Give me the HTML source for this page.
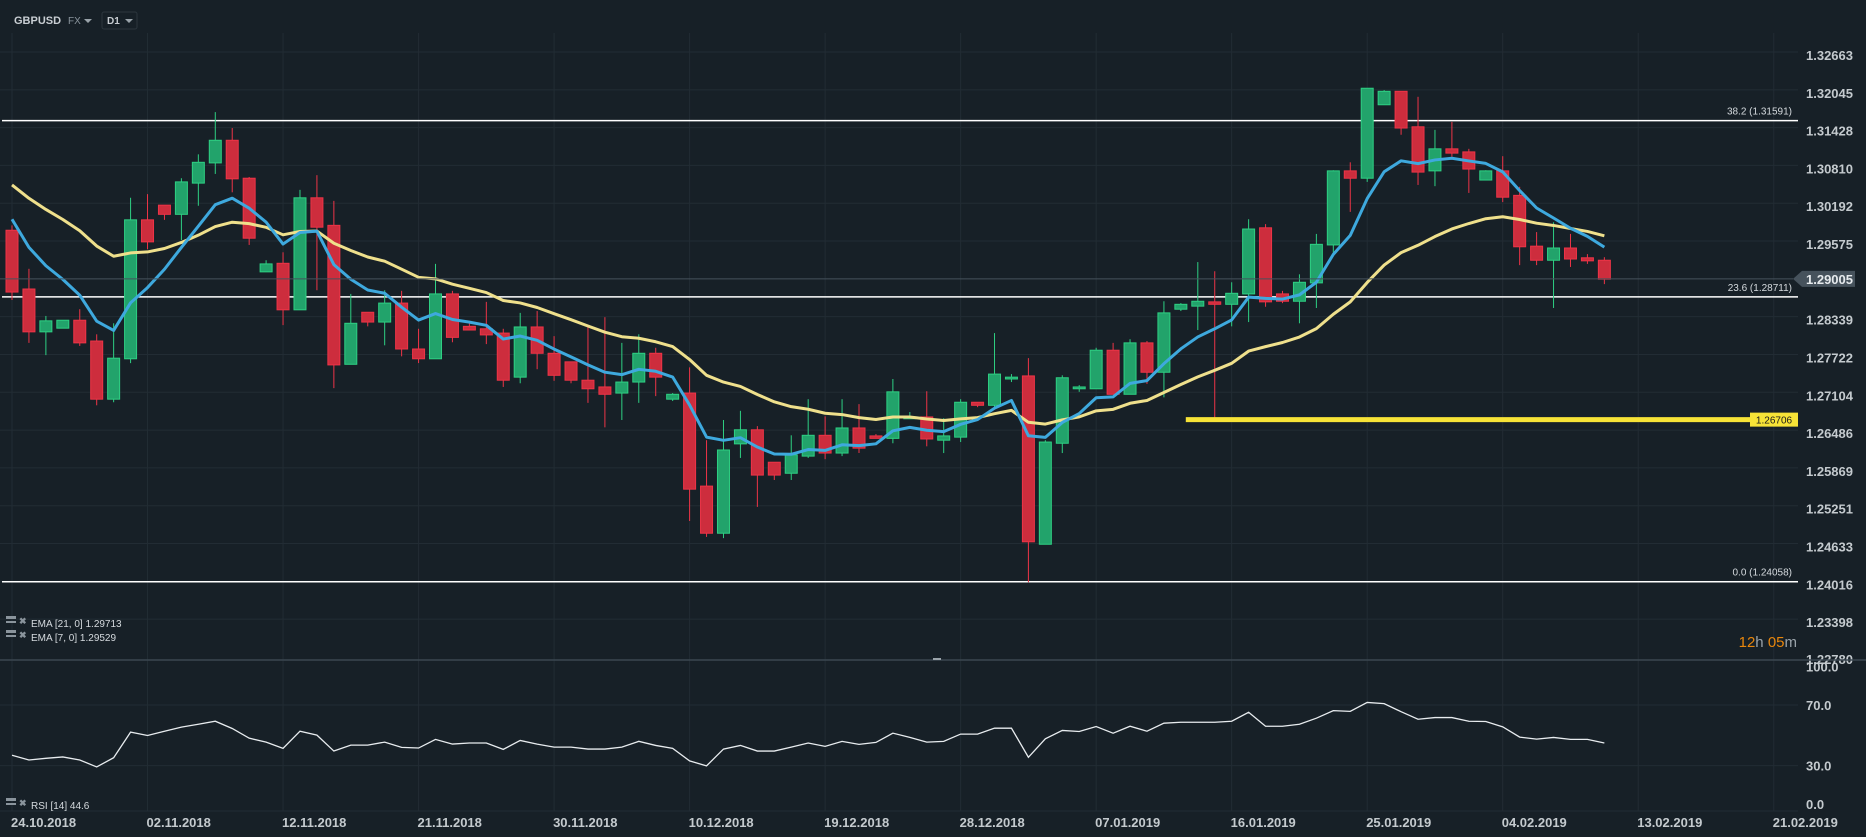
<!DOCTYPE html>
<html><head><meta charset="utf-8">
<style>
html,body{margin:0;padding:0;background:#172027;width:1866px;height:837px;overflow:hidden;font-family:"Liberation Sans",sans-serif;}
svg{display:block}
text{font-family:"Liberation Sans",sans-serif}
</style></head>
<body>
<svg id="chart" width="1866" height="837" xmlns="http://www.w3.org/2000/svg">
<rect x="0" y="0" width="1866" height="837" fill="#172027"/>
<g id="grid"></g>
<g id="fib"></g>
<g id="candles"></g>
<g id="emas"></g>
<g id="levels"></g>
<g id="rsi"></g>
<g id="axes"></g>
<g>
<text x="14" y="24" font-size="11" font-weight="bold" fill="#c9ced3">GBPUSD</text>
<g><text x="68" y="24" font-size="10" fill="#8a949c">FX</text><path d="M84 19 L92 19 L88 23 Z" fill="#9aa3aa"/></g>
<g><rect x="102" y="12" width="35" height="17" rx="2" fill="none" stroke="#2c363e"/><text x="107" y="24" font-size="10" font-weight="bold" fill="#c9ced3">D1</text><path d="M125 19 L133 19 L129 23 Z" fill="#9aa3aa"/></g>
</g>
<g>
<g><rect x="6" y="616" width="10" height="3" fill="#8a949c"/><rect x="6" y="621" width="10" height="2" fill="#8a949c"/><text x="19" y="624" font-size="9" font-weight="bold" fill="#8a949c">✖</text><text x="31" y="627" font-size="10" fill="#d5dade">EMA [21, 0] 1.29713</text></g>
<g><rect x="6" y="630" width="10" height="3" fill="#8a949c"/><rect x="6" y="635" width="10" height="2" fill="#8a949c"/><text x="19" y="638" font-size="9" font-weight="bold" fill="#8a949c">✖</text><text x="31" y="641" font-size="10" fill="#d5dade">EMA [7, 0] 1.29529</text></g>
<g><rect x="6" y="798" width="10" height="3" fill="#8a949c"/><rect x="6" y="803" width="10" height="2" fill="#8a949c"/><text x="19" y="806" font-size="9" font-weight="bold" fill="#8a949c">✖</text><text x="31" y="809" font-size="10" fill="#d5dade">RSI [14]  44.6</text></g>
</g>
<text x="1797" y="647" text-anchor="end" font-size="15"><tspan fill="#e8860c">12</tspan><tspan fill="#9aa3aa">h </tspan><tspan fill="#e8860c">05</tspan><tspan fill="#9aa3aa">m</tspan></text>
</svg>
<script>
// ---- data ----
const opens  = [1.2980,1.2884,1.2814,1.2820,1.2833,1.2799,1.2704,1.2770,1.2997,1.3021,1.3006,1.3057,1.3090,1.3127,1.3065,1.2912,1.2926,1.2850,1.3033,1.2988,1.2761,1.2846,1.2830,1.2861,1.2786,1.2770,1.2876,1.2823,1.2819,1.2812,1.2740,1.2822,1.2779,1.2765,1.2735,1.2724,1.2714,1.2732,1.2779,1.2704,1.2714,1.2562,1.2485,1.2631,1.2654,1.2601,1.2583,1.2611,1.2645,1.2616,1.2657,1.2644,1.2640,1.2672,1.2675,1.2637,1.2642,1.2699,1.2694,1.2737,1.2742,1.2467,1.2632,1.2721,1.2721,1.2784,1.2712,1.2796,1.2748,1.2851,1.2856,1.2863,1.2859,1.2876,1.2984,1.2876,1.2864,1.2894,1.2956,1.3077,1.3065,1.3185,1.3207,1.3149,1.3077,1.3113,1.3108,1.3062,1.3077,1.3037,1.2954,1.2931,1.2951,1.2935,1.2931];
const highs  = [1.2988,1.2917,1.2840,1.2833,1.2851,1.2810,1.2828,1.3033,1.3039,1.3021,1.3065,1.3104,1.3173,1.3147,1.3067,1.2931,1.2944,1.3046,1.3070,1.3028,1.2876,1.2846,1.2882,1.2881,1.2819,1.2925,1.2881,1.2828,1.2863,1.2819,1.2845,1.2848,1.2807,1.2765,1.2822,1.2838,1.2796,1.2810,1.2788,1.2714,1.2756,1.2637,1.2670,1.2685,1.2660,1.2601,1.2645,1.2704,1.2676,1.2704,1.2696,1.2647,1.2737,1.2683,1.2717,1.2673,1.2704,1.2699,1.2812,1.2745,1.2771,1.2637,1.2743,1.2727,1.2788,1.2796,1.2802,1.2799,1.2864,1.2861,1.2928,1.2913,1.2895,1.2998,1.2990,1.2881,1.2908,1.2974,1.3078,1.3091,1.3212,1.3209,1.3207,1.3198,1.3144,1.3157,1.3113,1.3078,1.3101,1.3051,1.2977,1.2993,1.2974,1.2941,1.2936];
const lows   = [1.2866,1.2796,1.2776,1.2820,1.2791,1.2694,1.2699,1.2763,1.2949,1.2997,1.2964,1.3020,1.3072,1.3042,1.2956,1.2912,1.2825,1.2850,1.2882,1.2722,1.2761,1.2823,1.2792,1.2774,1.2763,1.2770,1.2797,1.2817,1.2794,1.2724,1.2730,1.2753,1.2734,1.2730,1.2698,1.2658,1.2670,1.2698,1.2709,1.2701,1.2505,1.2479,1.2477,1.2608,1.2528,1.2572,1.2572,1.2608,1.2606,1.2611,1.2616,1.2640,1.2632,1.2672,1.2627,1.2616,1.2634,1.2691,1.2691,1.2732,1.2405,1.2467,1.2616,1.2716,1.2721,1.2712,1.2712,1.2729,1.2707,1.2848,1.2817,1.2670,1.2823,1.2830,1.2855,1.2861,1.2828,1.2853,1.2943,1.3010,1.3059,1.3185,1.3136,1.3054,1.3052,1.3100,1.3041,1.3062,1.3026,1.2923,1.2923,1.2853,1.2920,1.2925,1.2892];
const closes = [1.2879,1.2814,1.2832,1.2833,1.2796,1.2704,1.2771,1.2997,1.2961,1.3006,1.3059,1.3091,1.3127,1.3064,1.2967,1.2925,1.2850,1.3033,1.2985,1.2760,1.2828,1.2830,1.2861,1.2786,1.2770,1.2876,1.2805,1.2817,1.2809,1.2735,1.2822,1.2779,1.2743,1.2735,1.2721,1.2712,1.2732,1.2779,1.2740,1.2712,1.2557,1.2485,1.2621,1.2654,1.2580,1.2580,1.2613,1.2645,1.2616,1.2657,1.2624,1.2640,1.2716,1.2675,1.2639,1.2644,1.2699,1.2694,1.2745,1.2740,1.2471,1.2634,1.2739,1.2724,1.2784,1.2712,1.2796,1.2748,1.2845,1.2859,1.2864,1.2859,1.2877,1.2982,1.2863,1.2864,1.2895,1.2957,1.3077,1.3065,1.3212,1.3207,1.3147,1.3075,1.3113,1.3106,1.3080,1.3077,1.3034,1.2953,1.2931,1.2951,1.2933,1.2930,1.2900];
const ema7Seed = 1.2998;
const ema21Seed = 1.3054;
const rsiValues = [36.8,33.7,34.8,35.7,33.7,29.1,35.2,52.1,49.9,52.7,55.4,57.3,59.3,54.5,48.1,45.5,41.4,52.7,50.1,39.6,43.5,43.5,45.5,42.0,41.6,47.3,44.2,44.9,44.9,40.7,46.6,44.2,42.2,42.2,40.9,40.9,42.2,46.0,43.3,41.4,33.1,29.8,40.9,43.3,39.6,39.6,42.2,44.9,42.7,46.0,44.0,45.3,51.4,48.6,45.5,46.0,50.8,50.8,54.7,54.7,35.5,47.7,53.2,52.5,55.8,51.4,56.0,52.7,58.0,58.6,58.6,58.6,59.3,65.2,56.0,56.0,57.3,61.3,66.3,65.8,71.7,70.9,65.6,60.6,61.7,61.7,59.3,59.1,55.6,48.8,47.5,48.6,47.3,47.3,44.9];
const priceTicks = [1.32663,1.32045,1.31428,1.30810,1.30192,1.29575,1.28339,1.27722,1.27104,1.26486,1.25869,1.25251,1.24633,1.24016,1.23398,1.22780];
const priceTickLabels = ["1.32663","1.32045","1.31428","1.30810","1.30192","1.29575","1.28339","1.27722","1.27104","1.26486","1.25869","1.25251","1.24633","1.24016","1.23398","1.22780"];
const rsiTicks = [100,70,30,0];
const rsiTickLabels = ["100.0","70.0","30.0","0.0"];
const dateIdx = [0,8,16,24,32,40,48,56,64,72,80,88,96,104];
const dateLabels = ["24.10.2018","02.11.2018","12.11.2018","21.11.2018","30.11.2018","10.12.2018","19.12.2018","28.12.2018","07.01.2019","16.01.2019","25.01.2019","04.02.2019","13.02.2019","21.02.2019"];
const fibLevels = [1.31591,1.28711,1.24058];
const fibLabels = ["38.2 (1.31591)","23.6 (1.28711)","0.0 (1.24058)"];
const currentPrice = 1.29005;
const supportLevel = 1.26706;
const supportStartIdx = 70;

// ---- scales ----
const NS="http://www.w3.org/2000/svg";
const PLOT_R=1798;
function xS(i){return 12+16.94*i;}
function yS(p){return 55+(1.32663-p)*6121;}
function rS(v){return 811-v*1.514;}
function mk(tag,attrs,parent){const e=document.createElementNS(NS,tag);for(const k in attrs)e.setAttribute(k,attrs[k]);parent.appendChild(e);return e;}
const gGrid=document.getElementById('grid'),gFib=document.getElementById('fib'),gC=document.getElementById('candles'),gE=document.getElementById('emas'),gL=document.getElementById('levels'),gR=document.getElementById('rsi'),gA=document.getElementById('axes');

// grid
priceTicks.forEach((p,k)=>{const y=yS(p)-3;
 if(y<=655){const l=mk('line',{x1:0,x2:PLOT_R,y1:y,y2:y,stroke:'#222c34','stroke-width':1},gGrid);
 
 }
 const t=mk('text',{x:1806,y:Math.min(yS(p)+5,664),'font-size':13,'font-weight':'bold',fill:'#c4cace'},gA);t.textContent=priceTickLabels[k];
 
 
});
rsiTicks.forEach((v,k)=>{const y=rS(v);
 if(v>0&&v<100){const l=mk('line',{x1:0,x2:PLOT_R,y1:y,y2:y,stroke:'#222c34','stroke-width':1},gGrid);
 
 }
 const t=mk('text',{x:1806,y:v==100?y+12:(v==0?y-2:y+5),'font-size':13,'font-weight':'bold',fill:'#c4cace'},gA);t.textContent=rsiTickLabels[k];
 
 
});
dateIdx.forEach((d,k)=>{const x=xS(d);
 const l=mk('line',{x1:x,x2:x,y1:33,y2:811,stroke:'#222c34','stroke-width':1},gGrid);
 
 
 const t=mk('text',{x:x-1,y:827,'font-size':13,'font-weight':'bold',fill:'#c4cace'},gA);t.textContent=dateLabels[k];
 
 
});
const bl=mk('line',{x1:0,x2:PLOT_R,y1:811,y2:811,stroke:'#222c34'},gGrid);



// fib
fibLevels.forEach((p,k)=>{const y=yS(p);
 const l=mk('line',{x1:2,x2:PLOT_R,y1:y,y2:y,stroke:'#ffffff','stroke-width':1.5},gFib);
 
 
 const t=mk('text',{x:1792,y:y-6,'text-anchor':'end','font-size':10,fill:'#d5dade'},gFib);t.textContent=fibLabels[k];
 
 
});

// current price line
{const y=yS(currentPrice);
 const l=mk('line',{x1:0,x2:1793,y1:y,y2:y,stroke:'#46525c','stroke-width':1},gL);
 
 
 const b=mk('path',{d:`M1793 ${y} L1802 ${y-8} L1855 ${y-8} L1855 ${y+8} L1802 ${y+8} Z`,fill:'#46525c'},gL);
 
 
 const t=mk('text',{x:1806,y:y+5,'font-size':13,'font-weight':'bold',fill:'#e6eaed'},gL);t.textContent=currentPrice.toFixed(5);
 
 
}

// candles
for(let i=0;i<opens.length;i++){
 const up=closes[i]>=opens[i];
 const x=xS(i);const st=up?'#2ed083':'#ee3447';const fl=up?'#22a36b':'#cd2d3d';
 const g=mk('g',{},gC);
 
 
 mk('line',{x1:x,x2:x,y1:yS(highs[i]),y2:yS(lows[i]),stroke:st,'stroke-width':1},g);
 const t=yS(Math.max(opens[i],closes[i])),b=yS(Math.min(opens[i],closes[i]));
 mk('rect',{x:x-6,y:t,width:12,height:Math.max(1,b-t),fill:fl,stroke:st,'stroke-width':1},g);
}

// EMAs
function ema(seed,n){const a=2/(n+1);const out=[seed];for(let i=1;i<closes.length;i++)out.push(out[i-1]+a*(closes[i]-out[i-1]));return out;}
const e21=ema(ema21Seed,21),e7=ema(ema7Seed,7);
const p21=mk('polyline',{points:e21.map((v,i)=>xS(i)+','+yS(v)).join(' '),fill:'none',stroke:'#efe08c','stroke-width':3,'stroke-linejoin':'round'},gE);


const p7=mk('polyline',{points:e7.map((v,i)=>xS(i)+','+yS(v)).join(' '),fill:'none',stroke:'#3ea9de','stroke-width':3,'stroke-linejoin':'round'},gE);



// support level
{const y=yS(supportLevel);
 const l=mk('rect',{x:xS(supportStartIdx)-12,y:y-2.5,width:1758-xS(supportStartIdx)+12,height:5,fill:'#f7e337'},gL);
 
 
 const b=mk('rect',{x:1750,y:y-7,width:48,height:14,fill:'#f7e337'},gL);
 
 
 const t=mk('text',{x:1774,y:y+4,'text-anchor':'middle','font-size':10,fill:'#1a1a1a'},gL);t.textContent=supportLevel.toFixed(5);
 
 
}

// separator
{const s=mk('line',{x1:0,x2:1866,y1:660,y2:660,stroke:'#3b4750','stroke-width':1.5},gA);
 
 
 const h=mk('rect',{x:933,y:658,width:8,height:2,fill:'#9aa3aa'},gA);
 
 }

// RSI
const rl=mk('polyline',{points:rsiValues.map((v,i)=>xS(i)+','+rS(v)).join(' '),fill:'none',stroke:'#e8ecef','stroke-width':1.3},gR);


</script>
</body></html>
